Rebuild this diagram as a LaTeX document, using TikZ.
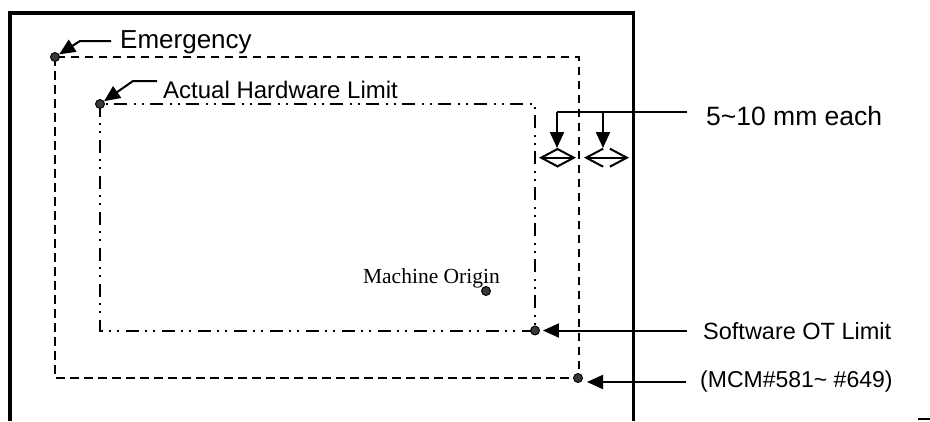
\documentclass[tikz,border=0pt]{standalone}
\usepackage{fontspec}
\setmainfont{Liberation Sans}
\newfontfamily\timesf{Liberation Serif}
\usetikzlibrary{arrows.meta}
\begin{document}
\begin{tikzpicture}[x=1pt,y=-1pt,
  frame/.style={line width=3.8pt},
  lbl/.style={inner sep=0pt, anchor=base west},
  pt/.style={circle, fill=black!78, draw=black, line width=0.9pt, minimum size=9pt, inner sep=0pt},
  emg/.style={line width=2pt, dash pattern=on 8.5pt off 5.5pt},
  hw/.style={line width=2pt, dash pattern=on 13pt off 6pt on 2pt off 6pt on 2pt off 7pt},
  lead/.style={line width=2pt},
  ptr/.style={line width=2pt, -{Triangle[length=16pt,width=14pt]}},
  gap/.style={line width=2pt, {Straight Barb[length=17pt,width=18pt]}-{Straight Barb[length=17pt,width=18pt]}},
]
\useasboundingbox (0,0) rectangle (930,421);
% outer frame (open at bottom)
\draw[frame] (10,421) -- (10,13) -- (633.5,13) -- (633.5,421);
% limits
\draw[emg] (55,57) rectangle (579,378);
\draw[hw] (100,104) rectangle (535,330.5);
% points
\node[pt] (e1) at (55,57) {};
\node[pt] (e2) at (578,378) {};
\node[pt] (h1) at (100,104) {};
\node[pt] (h2) at (535,330.5) {};
\node[pt] (mo) at (486,291) {};
% labels
\node[lbl, font=\fontsize{26}{30}\selectfont] (emgl) at (120,48) {Emergency};
\coordinate (ea) at (111,41);
\coordinate (eb) at (80,41);
\draw[ptr] (ea) -- (eb) -- (e1);
\node[lbl, font=\fontsize{24}{28}\selectfont] (hwl) at (163,98) {Actual Hardware Limit};
\coordinate (ha) at (157,81);
\coordinate (hb) at (133,81);
\draw[ptr] (ha) -- (hb) -- (h1);
\node[inner sep=0pt, anchor=base east, font=\timesf\fontsize{21.5}{25}\selectfont] (mol) at (500,283) {Machine Origin};
% 5~10 mm each
\node[lbl, font=\fontsize{26.5}{30}\selectfont] (each) at (706,125) {5\textasciitilde10 mm each};
\coordinate (m0) at (687,112);
\coordinate (m1) at (557,112);
\coordinate (m2) at (603,112);
\coordinate (t1) at (557,148);
\coordinate (t2) at (603,148);
\draw[lead] (m0) -- (m1);
\draw[ptr] (m1) -- (t1);
\draw[ptr] (m2) -- (t2);
\coordinate (g1a) at (539,157.7);
\coordinate (g1b) at (576,157.7);
\coordinate (g2a) at (584,157.7);
\coordinate (g2b) at (629,157.7);
\draw[gap] (g1a) -- (g1b);
\draw[gap] (g2a) -- (g2b);
% software OT limit
\node[lbl, font=\fontsize{23.5}{27}\selectfont] (sw) at (703,339) {Software OT Limit};
\coordinate (s0) at (687,330.5);
\draw[ptr, shorten >=3pt] (s0) -- (h2);
\node[lbl, font=\fontsize{23}{27}\selectfont] (mcm) at (700,387) {(MCM\#581\textasciitilde{} \#649)};
\coordinate (c0) at (686,382);
\coordinate (c1) at (587,382);
\draw[ptr] (c0) -- (c1);
% small mark at bottom right
\coordinate (k0) at (918,419);
\coordinate (k1) at (930,419);
\draw[line width=1.3pt] (k0) -- (k1);
\end{tikzpicture}
\end{document}
